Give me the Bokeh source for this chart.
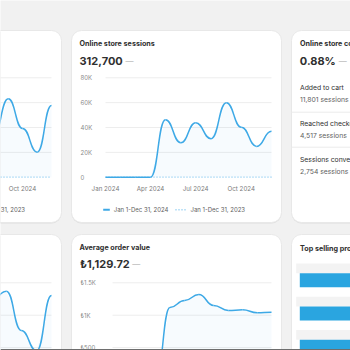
import numpy as np
from bokeh.plotting import figure
from bokeh.models import Range1d
from bokeh.core.properties import value
from bokeh.embed import file_html
from bokeh.resources import INLINE

FONT = value("Inter")
LINE = "#3ea9e6"
DOT = "#7cc4ef"

# ---------------- data ----------------
months = ["2024-01-01", "2024-02-01", "2024-03-01", "2024-04-01", "2024-05-01", "2024-06-01",
          "2024-07-01", "2024-08-01", "2024-09-01", "2024-10-01", "2024-11-01", "2024-12-01"]

sales_2024 = [0, 0, 0, 0, 480000, 300000, 500000, 337000, 631000, 392000, 201000, 577000]
sales_2023 = [0] * 12
sales_ticks = [200000, 400000, 600000, 800000]

sessions_2024 = [0, 0, 0, 0, 46300, 27700, 43900, 31000, 60000, 40300, 24800, 37000]
sessions_2023 = [0] * 12
sessions_ticks = [20000, 40000, 60000, 80000]
sessions_tick_labels = ["20K", "40K", "60K", "80K"]

orders_2024 = [0, 0, 0, 0, 330, 200, 330, 488, 548, 306, 180, 522]
orders_2023 = [0] * 12
orders_ticks = [200, 400, 600]

aov_2024 = [0, 0, 0, 0, 1119, 1227, 1319, 1150, 1073, 1083, 1037, 1046]
aov_2023 = [0] * 12
aov_ticks = [500, 1000, 1500]
aov_tick_labels = ["₺500", "₺1K", "₺1.5K"]

x_tick_idx = [0, 3, 6, 9]
x_tick_labels = ["Jan 2024", "Apr 2024", "Jul 2024", "Oct 2024"]

funnel_labels = ["Added to cart", "Reached checkout", "Sessions converted"]
funnel_values = ["11,801 sessions", "4,517 sessions", "2,754 sessions"]

top_products_units = [612, 544, 497]

month_ms = np.array(months, dtype="datetime64[ms]").astype("int64").astype(float)

p = figure(width=350, height=350, x_range=Range1d(0, 350), y_range=Range1d(350, 0),
           output_backend="svg", toolbar_location=None, min_border=0,
           x_axis_type=None, y_axis_type=None,
           background_fill_color="#f1f1f1", border_fill_color="#f1f1f1",
           outline_line_color=None)

# ---------------- cards ----------------
cl = [-150, 71, 291, -150, 71, 291]
cr = [61, 281, 372, 61, 281, 372]
ct = [30, 30, 30, 234, 234, 234]
cb = [222, 222, 222, 372, 372, 372]
p.quad(left=cl, right=cr, top=[t + 1 for t in ct], bottom=[b + 1 for b in cb],
       fill_color="#dedede", line_color=None, border_radius=10)
p.quad(left=cl, right=cr, top=ct, bottom=cb, fill_color="white", line_color="#e8e8e8",
       border_radius=10)


def txt(x, y, s, size, color="#303030", bold=False, align="left"):
    p.text(x=[x], y=[y], text=[s], text_font=FONT, text_font_size=f"{size}px",
           text_color=color, text_font_style="bold" if bold else "normal",
           text_align=align, text_baseline="middle")


def add_chart(key, left_px, right_px, zero_px, ref_val, ref_px, cur, prev,
              ticks, tick_labels=None, label_px=None, xt_idx=(), xt_labels=()):
    mpp = (month_ms[-1] - month_ms[0]) / (right_px - left_px)
    xs = month_ms[0] - left_px * mpp
    p.extra_x_ranges[key + "x"] = Range1d(xs, xs + 350 * mpp)
    vpp = ref_val / (zero_px - ref_px)
    p.extra_y_ranges[key + "y"] = Range1d(-(350 - zero_px) * vpp, zero_px * vpp)
    kw = dict(x_range_name=key + "x", y_range_name=key + "y")
    n = len(ticks)
    p.segment(x0=[month_ms[0]] * n, x1=[month_ms[-1]] * n, y0=ticks, y1=ticks,
              line_color="#ededed", line_width=1, **kw)
    if tick_labels:
        p.text(x=[month_ms[0]] * n, y=ticks, text=tick_labels, x_offset=label_px - left_px,
               text_align="left", text_baseline="middle", text_font=FONT,
               text_font_size="6px", text_color="#8a8a8a", **kw)
    if len(xt_idx):
        p.text(x=month_ms[list(xt_idx)], y=[0] * len(xt_idx), text=list(xt_labels), y_offset=11.5,
               text_align="center", text_baseline="middle", text_font=FONT,
               text_font_size="6.2px", text_color="#7a7a7a", **kw)
    cur = np.array(cur, dtype=float)
    p.varea(x=month_ms, y1=[0] * len(cur), y2=cur, fill_color=LINE, fill_alpha=0.045, **kw)
    p.line(month_ms, prev, line_dash="1 2", line_color=DOT, line_width=1.2, **kw)
    x0 = month_ms[:-1]
    x1 = month_ms[1:]
    mid = (x0 + x1) / 2
    p.bezier(x0=x0, y0=cur[:-1], x1=x1, y1=cur[1:], cx0=mid, cy0=cur[:-1], cx1=mid, cy1=cur[1:],
             line_color=LINE, line_width=1.5, **kw)


# top-left (total sales, mostly off-screen)
add_chart("tl", -108, 51, 176.7, 800000, 77.3, sales_2024, sales_2023, sales_ticks,
          xt_idx=[9], xt_labels=["Oct 2024"])
# top-middle (sessions)
add_chart("tm", 105, 271, 176.7, 80000, 77.3, sessions_2024, sessions_2023, sessions_ticks,
          sessions_tick_labels, 80, x_tick_idx, x_tick_labels)
txt(80, 176.7, "0", 6, "#8a8a8a")
# bottom-left (orders, mostly off-screen)
add_chart("bl", -115, 51, 379.5, 600, 282.3, orders_2024, orders_2023, orders_ticks)
# bottom-middle (average order value)
add_chart("bm", 112, 271, 379.5, 1500, 282.3, aov_2024, aov_2023, aov_ticks,
          aov_tick_labels, 80)

# ---------------- legends ----------------
for dx, show_cur in [(0, True), (-220, False)]:
    if show_cur:
        p.segment(x0=[102.7 + dx], x1=[109.3 + dx], y0=[209.3], y1=[209.3], line_color=LINE, line_width=2)
        txt(113.3 + dx, 209.3, "Jan 1-Dec 31, 2024", 6, "#616161")
    p.segment(x0=[175 + dx], x1=[186.7 + dx], y0=[209.3], y1=[209.3], line_color=DOT,
              line_width=1.5, line_dash="1 2")
    txt(190 + dx, 209.3, "Jan 1-Dec 31, 2023", 6, "#616161")

# ---------------- headers ----------------
txt(79, 43.3, "Online store sessions", 7.2, bold=True)
txt(79, 60, "312,700", 11, bold=True)
txt(125, 60, "—", 8, "#b5b5b5")

txt(79, 247.3, "Average order value", 7.2, bold=True)
txt(79.5, 263.3, "₺1,129.72", 11, bold=True)
txt(131.7, 263.3, "—", 8, "#b5b5b5")

txt(299.5, 43.3, "Online store conversion rate", 7.2, bold=True)
txt(299.3, 60, "0.88%", 11, bold=True)
txt(338.3, 60, "—", 8, "#b5b5b5")

label_y = [87.3, 123.3, 159.3]
for i in range(3):
    txt(299.5, label_y[i], funnel_labels[i], 6.8, "#303030")
    txt(299.5, label_y[i] + 11.7, funnel_values[i], 6.8, "#616161")
p.segment(x0=[291, 291], x1=[372, 372], y0=[111.7, 146.7], y1=[111.7, 146.7],
          line_color="#ebebeb", line_width=1)

txt(299.5, 247.7, "Top selling products", 7.2, bold=True)

# ---------------- top selling bars ----------------
row_px0, row_step = 279.7, 33.3
p.extra_y_ranges["bry"] = Range1d((350 - row_px0) / row_step, -row_px0 / row_step)
bar_upp = 5.0  # units per pixel
p.extra_x_ranges["brx"] = Range1d(-299.3 * bar_upp, (350 - 299.3) * bar_upp)
rows = list(range(len(top_products_units)))
p.quad(left=[295.7] * 3, right=[372] * 3,
       top=[row_px0 + r * row_step - 16.7 for r in rows],
       bottom=[row_px0 + r * row_step - 7 for r in rows],
       fill_color="#f3f3f3", line_color=None)
p.hbar(y=rows, height=14 / row_step, left=0, right=top_products_units, fill_color="#2aa5e0",
       line_color=None, x_range_name="brx", y_range_name="bry")

# bottom dark edge
p.quad(left=[0], right=[350], top=[348.5], bottom=[350], fill_color="#6e6e6e", line_color=None)

open("out.html", "w").write(file_html(p, INLINE))
